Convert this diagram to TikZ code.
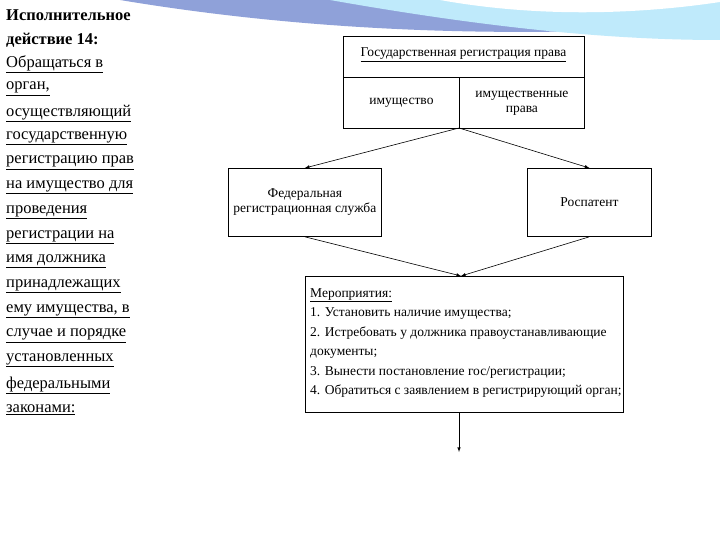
\documentclass[tikz,border=0pt]{standalone}
\usepackage{fontspec}
\setmainfont{Liberation Serif}
\begin{document}
\begin{tikzpicture}[x=1pt,y=-1pt,
  bx/.style={draw,line width=0.8pt},
  lt/.style={anchor=west,font=\fontsize{16.5}{18}\selectfont,inner sep=0pt},
  dt/.style={font=\fontsize{13.5}{15}\selectfont,align=center,inner sep=0pt},
  ar/.style={-latex,line width=0.6pt}]
\useasboundingbox (0,0) rectangle (720,540);
\fill[white] (0,0) rectangle (720,540);
% background swoosh
\fill[cyan!35!blue!45] (120,0) .. controls (300,30) and (500,40) .. (720,25) -- (720,0) -- cycle;
\fill[cyan!25!white] (330,0) .. controls (500,30) and (620,40) .. (720,40) -- (720,0) -- cycle;
\fill[white] (440,0) .. controls (540,18) and (640,14) .. (720,2) -- (720,0) -- cycle;
% left text
\node[lt,font=\fontsize{16.5}{18}\selectfont\bfseries] (l1) at (6,15) {Исполнительное};
\node[lt,font=\fontsize{16.5}{18}\selectfont\bfseries] (l2) at (6,40) {действие 14:};
\foreach \t [count=\i from 0] in {{Обращаться в},{орган,},{осуществляющий},{государственную},{регистрацию прав},{на имущество для},{проведения},{регистрации на},{имя должника},{принадлежащих},{ему имущества, в},{случае и порядке},{установленных},{федеральными},{законами:}}{
  \node[lt] (t\i) at (6,64+24.7*\i) {\underline{\t}};
}
% diagram
\node[bx,minimum width=241,minimum height=41,anchor=north west] (top) at (343,36) {};
\node[dt] (toptx) at (463.5,55) {\underline{Государственная регистрация права}};
\node[bx,minimum width=116,minimum height=51,anchor=north west] (im) at (343,77) {};
\node[dt] at (im.center) {имущество};
\node[bx,minimum width=125,minimum height=51,anchor=north west] (ip) at (459,77) {};
\node[dt] at (ip.center) {имущественные\\права};
\coordinate (tb) at (459,128);
\node[bx,minimum width=153,minimum height=68,anchor=north west] (frs) at (228,168) {};
\node[dt] at (frs.center) {Федеральная\\регистрационная служба};
\node[bx,minimum width=124,minimum height=68,anchor=north west] (rp) at (527,168) {};
\node[dt] at (rp.center) {Роспатент};
\node[bx,minimum width=318,minimum height=136,anchor=north west] (mer) at (305,276) {};
\node[dt,align=left,anchor=north west,font=\fontsize{13.5}{19.5}\selectfont] at (310,288) {\underline{Мероприятия:}\\1. Установить наличие имущества;\\2. Истребовать у должника правоустанавливающие\\документы;\\3. Вынести постановление гос/регистрации;\\4. Обратиться с заявлением в регистрирующий орган;};
\coordinate (mt) at (461,276);
\coordinate (end) at (459,452);
\draw[ar] (tb) -- (frs.north);
\draw[ar] (tb) -- (rp.north);
\draw[ar] (frs.south) -- (mt);
\draw[ar] (rp.south) -- (mt);
\draw[ar] (459,412) -- (end);
\end{tikzpicture}
\end{document}
